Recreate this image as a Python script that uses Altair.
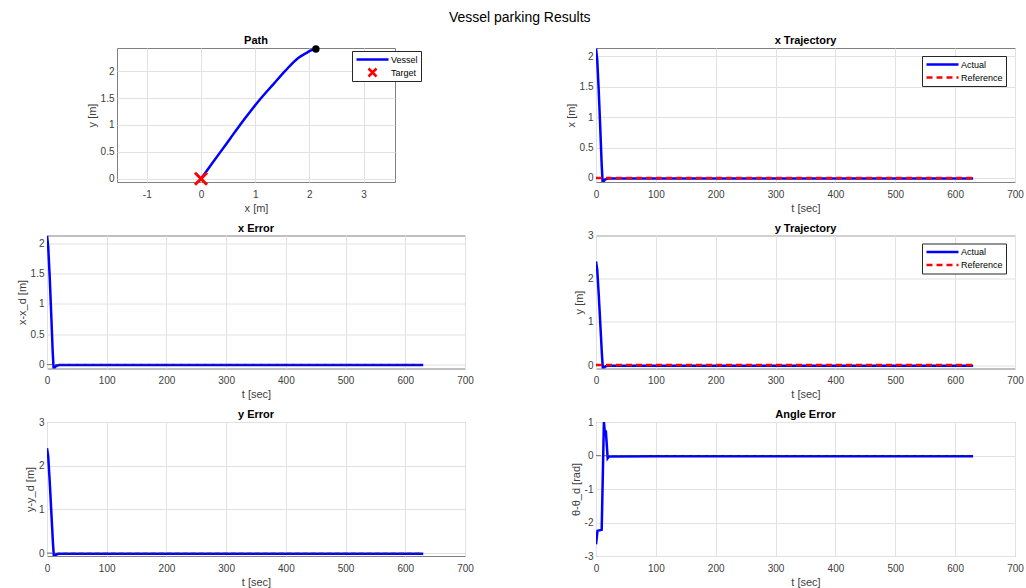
import altair as alt
import pandas as pd

FONT = "Liberation Sans"
BLUE = "#0000ff"
RED = "#ff0000"
GRID = "#e2e2e2"
TXT = "#404040"

# ---------------- data ----------------
# Path panel
path_x = [2.12, 2.02, 1.95, 1.80, 1.55, 1.33, 1.11, 0.91, 0.72, 0.54, 0.36, 0.18, 0.0]
path_y = [2.41, 2.38, 2.34, 2.25, 2.00, 1.75, 1.50, 1.25, 1.00, 0.75, 0.50, 0.25, 0.0]
target_x = [0.0]
target_y = [0.0]
start_x = [2.12]
start_y = [2.41]
path_xticks = [-1, 0, 1, 2, 3]
path_yticks = [0, 0.5, 1, 1.5, 2]

# time series
t_x = [0, 2, 4.5, 7, 9.5, 11, 12.5, 15, 20, 100, 200, 300, 400, 500, 600, 630]
x_actual = [2.13, 1.95, 1.45, 0.85, 0.22, -0.06, -0.06, -0.025, -0.01, -0.01,
            -0.01, -0.01, -0.01, -0.01, -0.01, -0.01]
t_y = [0, 2, 4.5, 7.2, 10, 11.5, 13, 15.5, 20, 100, 200, 300, 400, 500, 600, 630]
y_actual = [2.40, 2.22, 1.65, 0.95, 0.22, -0.08, -0.07, -0.03, -0.015, -0.015,
            -0.015, -0.015, -0.015, -0.015, -0.015, -0.015]
t_a = [0, 2.5, 9.5, 13.2, 14.5, 16.5, 19.5, 21.5, 100, 200, 300, 400, 500, 600, 630]
angle_err = [-2.65, -2.25, -2.22, 1.0, 0.75, 0.72, -0.08, -0.03, -0.02, -0.02,
             -0.02, -0.02, -0.02, -0.02, -0.02]
ref_t = [0, 630]
ref_v = [0.0, 0.0]
time_ticks = [0, 100, 200, 300, 400, 500, 600, 700]

LINE_SYM = "M-4,0L4,0"
X_SYM = "M-1,-1L1,1M-1,1L1,-1"
LBL = "'' + datum.value"


def leg(x, y):
    return alt.Legend(
        orient="none", legendX=x, legendY=y, title=None, direction="vertical",
        labelFont=FONT, labelFontSize=9, labelColor="#000",
        symbolStrokeWidth=2.5, symbolSize=64, symbolOffset=12, symbolType=LINE_SYM,
        strokeColor="#262626", fillColor="white", padding=3, rowPadding=2, labelOffset=13,
        clipHeight=11,
    )


def ttl(text, off):
    return alt.TitleParams(text, offset=off)


def time_axes(ytitle, ydom, yvals):
    xs = alt.X("t:Q", scale=alt.Scale(domain=[0, 700], nice=False, zero=False),
               axis=alt.Axis(title="t [sec]", values=time_ticks, labelExpr=LBL))
    ys = alt.Y("v:Q", scale=alt.Scale(domain=ydom, nice=False, zero=False),
               axis=alt.Axis(title=ytitle, values=yvals, labelExpr=LBL))
    return xs, ys


def traj_panel(title, off, ytitle, ydom, yvals, t, v, w, h):
    xs, ys = time_axes(ytitle, ydom, yvals)
    labels = ["Actual", "Reference"]
    df = pd.concat([
        pd.DataFrame({"t": t, "v": v, "s": labels[0]}),
        pd.DataFrame({"t": ref_t, "v": ref_v, "s": labels[1]}),
    ])
    return alt.Chart(df).mark_line(strokeWidth=2.5, clip=True).encode(
        x=xs, y=ys,
        color=alt.Color("s:N", scale=alt.Scale(domain=labels, range=[BLUE, RED]), legend=leg(326, 8)),
        strokeDash=alt.StrokeDash("s:N", scale=alt.Scale(domain=labels, range=[[1, 0], [6, 4]]), legend=leg(326, 8)),
    ).properties(title=ttl(title, off), width=w, height=h)


def err_panel(title, off, ytitle, ydom, yvals, t, v, w, h):
    xs, ys = time_axes(ytitle, ydom, yvals)
    df = pd.DataFrame({"t": t, "v": v})
    zdf = pd.DataFrame({"t": ref_t, "v": ref_v})
    line = alt.Chart(df).mark_line(strokeWidth=2.5, color=BLUE, clip=True).encode(x=xs, y=ys)
    zero = alt.Chart(zdf).mark_line(strokeWidth=1.2, color="#333333", opacity=0.6,
                                    strokeDash=[5, 3], clip=True).encode(x=xs, y=ys)
    return alt.layer(line, zero).properties(title=ttl(title, off), width=w, height=h)


# Path panel
pdf = pd.DataFrame({"x": path_x, "y": path_y, "s": "Vessel"})
tdf = pd.DataFrame({"x": target_x, "y": target_y, "s": "Target"})
sdf = pd.DataFrame({"x": start_x, "y": start_y})
px = alt.X("x:Q", scale=alt.Scale(domain=[-1.55, 3.58], nice=False, zero=False),
           axis=alt.Axis(title="x [m]", values=path_xticks, labelExpr=LBL))
py = alt.Y("y:Q", scale=alt.Scale(domain=[-0.06, 2.43], nice=False, zero=False),
           axis=alt.Axis(title="y [m]", values=path_yticks, labelExpr=LBL))
pcol = alt.Color("s:N", scale=alt.Scale(domain=["Vessel", "Target"], range=[BLUE, RED]), legend=leg(235, 3))
pshape = alt.Shape("s:N", scale=alt.Scale(domain=["Vessel", "Target"], range=[LINE_SYM, X_SYM]), legend=leg(235, 3))
p_line = alt.Chart(pdf).mark_line(strokeWidth=2.5, interpolate="monotone").encode(
    x=px, y=py, color=pcol, order="y:Q")
p_tgt = alt.Chart(tdf).mark_point(filled=False, strokeWidth=3, size=144, opacity=1).encode(
    x=px, y=py, color=pcol, shape=pshape)
p_start = alt.Chart(sdf).mark_circle(color="black", size=55, opacity=1).encode(x=px, y=py)
p_path = alt.layer(p_line, p_tgt, p_start).properties(title=ttl("Path", -2), width=278, height=134)

p_xtraj = traj_panel("x Trajectory", 2, "x [m]", [-0.066, 2.138], [0, 0.5, 1, 1.5, 2], t_x, x_actual, 419, 134)
p_xerr = err_panel("x Error", 2, "x-x_d [m]", [-0.066, 2.13], [0, 0.5, 1, 1.5, 2], t_x, x_actual, 418, 133)
p_ytraj = traj_panel("y Trajectory", -3, "y [m]", [-0.08, 3], [0, 1, 2, 3], t_y, y_actual, 419, 133)
p_yerr = err_panel("y Error", -3, "y-y_d [m]", [-0.065, 3], [0, 1, 2, 3], t_y, y_actual, 418, 134)
p_ang = err_panel("Angle Error", -3, "θ-θ_d [rad]", [-3, 1], [-3, -2, -1, 0, 1], t_a, angle_err, 419, 134)

chart = alt.concat(
    p_path, p_xtraj, p_xerr, p_ytraj, p_yerr, p_ang,
    columns=2, spacing={"row": 53.5, "column": 131}, center=True, bounds="flush", align="each",
    title=alt.TitleParams("Vessel parking Results", fontSize=14, fontWeight="normal",
                          anchor="middle", offset=10, font=FONT, color="#000"),
).resolve_scale(
    x="independent", y="independent", color="independent",
    strokeDash="independent", shape="independent",
).resolve_legend(
    color="independent", strokeDash="independent", shape="independent",
).properties(
    padding={"left": 15, "top": 10, "right": 0, "bottom": 0},
    background="white",
).configure_view(
    stroke="#808080", strokeWidth=1,
).configure_axis(
    grid=True, gridColor=GRID, gridWidth=1, domain=False, ticks=False, tickSize=0,
    labelFont=FONT, labelFontSize=10, labelColor=TXT, labelFlush=False,
    titleFont=FONT, titleFontSize=11, titleFontWeight="normal", titleColor=TXT,
).configure_axisX(
    labelPadding=7, titlePadding=3,
).configure_axisY(
    labelPadding=3, titlePadding=3,
).configure_title(
    font=FONT, fontSize=11, fontWeight="bold", color="#000",
)

chart.save("out.html", embed_options={"renderer": "svg", "actions": False})
